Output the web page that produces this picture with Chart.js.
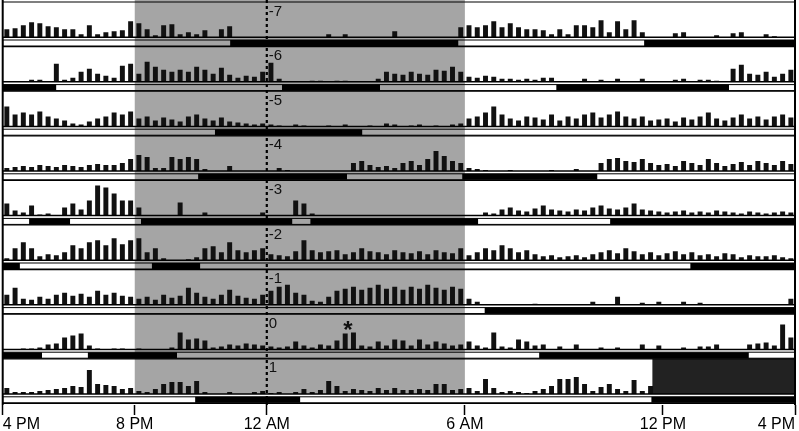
<!DOCTYPE html>
<html>
<head>
<meta charset="utf-8">
<script src="https://cdn.jsdelivr.net/npm/chart.js@4"></script>
<style>
  html, body { margin: 0; padding: 0; background: #fff; }
</style>
</head>
<body>
<canvas id="actogram" width="799" height="431"></canvas>
<script>
// day labels, top to bottom
const dayLabels = ['-7', '-6', '-5', '-4', '-3', '-2', '-1', '0', '1'];
const tickHours = [0, 4, 8, 14, 20, 24];
const tickLabels = ['4 PM', '8 PM', '12 AM', '6 AM', '12 PM', '4 PM'];

// activity counts, 15 min bins from 4 PM to 4 PM (96 per day)
const actM7 = [8,9,12,15,14,11,10,8,8,3,12,3,5,6,7,16, 14,8,2,12,13,3,5,3,7,0,8,11,0,0,0,0,
  0,0,0,0,0,0,0,3,0,3,0,0,0,0,0,6, 0,0,0,0,0,0,0,10,12,10,12,16,10,14,10,8,
  8,7,3,8,3,12,12,10,17,5,16,8,17,5,0,0, 0,4,5,0,0,0,2,0,4,5,0,0,3,1,0,0];
const actM6 = [0,0,0,2,2,0,18,2,4,10,13,8,6,4,16,18, 8,20,15,12,10,12,10,15,12,8,14,7,4,6,5,10,
  19,3,0,0,0,1,1,0,1,1,0,0,0,3,10,8, 7,10,8,7,12,11,15,10,5,4,6,5,3,3,2,3,
  2,4,4,0,0,0,3,0,2,0,3,0,0,3,0,0, 0,2,3,0,2,2,1,0,13,17,8,7,10,5,8,12];
const actM5 = [20,12,14,12,15,10,8,6,3,2,5,8,10,14,12,15, 8,10,6,9,7,5,10,12,8,6,9,5,4,3,2,3,
  2,1,0,2,1,0,0,1,0,2,0,0,1,0,3,2, 0,1,2,0,1,0,2,3,8,10,14,20,12,8,6,10,
  9,7,12,6,10,8,12,14,9,12,15,10,8,10,6,7, 8,5,9,7,10,14,8,6,9,12,8,10,7,10,12,9];
const actM4 = [3,4,5,4,6,5,4,6,5,4,6,7,6,6,8,12, 16,14,3,3,14,12,14,12,2,0,0,5,0,0,0,0,
  0,3,1,0,0,0,0,0,0,0,8,10,6,4,5,3, 8,10,6,12,20,15,10,8,3,2,1,0,0,1,0,0,
  0,0,1,0,0,2,0,0,8,12,13,10,9,12,8,6, 7,5,10,8,6,12,8,5,7,9,6,10,8,6,10,7];
const actM3 = [12,5,3,10,1,2,0,8,12,6,15,30,28,22,15,15, 8,0,0,0,0,13,0,0,3,0,0,0,0,0,0,3,
  0,0,0,15,12,2,0,0,0,0,0,0,0,0,0,0, 0,0,0,0,0,0,0,0,0,0,3,2,6,8,5,4,
  7,10,6,5,4,6,5,8,10,7,6,8,12,6,5,4, 3,4,5,3,4,3,5,4,3,2,4,3,2,3,4,3];
const actM2 = [2,12,18,12,4,6,5,8,15,12,18,20,15,22,16,20, 22,8,12,2,0,0,1,3,12,14,8,18,10,8,10,12,
  6,5,4,9,20,10,8,9,10,6,8,12,9,8,6,10, 8,7,9,6,10,8,7,12,5,8,12,10,15,12,8,10,
  6,4,5,3,4,5,3,6,8,10,7,12,9,6,8,5, 7,9,6,8,5,6,4,7,6,3,5,4,4,5,3,2];
const actM1 = [10,17,6,5,8,6,10,12,9,11,8,14,10,12,9,8, 6,8,5,10,7,9,17,12,8,6,10,15,9,7,6,10,
  14,18,20,12,10,4,3,8,14,16,18,15,17,20,16,18, 15,18,16,20,17,15,18,16,6,3,0,0,0,0,0,0,
  1,0,0,0,0,0,0,3,0,0,8,0,0,2,0,3, 0,0,3,0,2,0,0,0,0,0,0,0,0,0,0,6];
const act0 = [0,0,1,1,2,5,6,12,14,16,4,1,0,1,1,0, 1,0,0,0,2,17,10,11,9,2,3,5,4,6,5,4,
  3,2,3,8,4,2,5,4,9,16,17,4,3,8,4,10, 9,4,10,5,8,6,4,5,8,4,2,17,3,2,10,8,
  4,5,0,3,0,5,0,0,2,0,2,0,0,5,0,4, 0,0,2,0,3,3,5,0,0,0,5,6,7,4,25,12];
const act1 = [6,2,2,2,3,4,5,6,8,7,24,10,9,8,5,6, 3,2,5,10,12,12,8,13,2,0,0,2,0,0,2,3,
  1,2,0,2,5,2,4,13,8,3,5,4,3,6,4,6, 4,4,5,4,10,10,4,5,6,3,15,6,2,3,2,1,
  3,5,8,15,15,17,10,3,7,10,5,3,14,3,8,0, 0,0,0,0,0,0,0,0,0,0,0,0,0,0,0,0];

// sleep episodes (black state bar), hours after 4 PM
const sleepM7 = [[6.89, 13.8], [19.43, 24]];
const sleepM6 = [[0, 1.62], [8.46, 11.43], [16.77, 22.0]];
const sleepM5 = [[6.43, 10.89]];
const sleepM4 = [[5.92, 10.43], [13.92, 18.01]];
const sleepM3 = [[0.8, 2.04], [4.19, 8.77], [9.32, 14.4], [18.4, 24]];
const sleepM2 = [[0, 0.52], [4.52, 5.98], [20.83, 24]];
const sleepM1 = [[14.6, 24]];
const sleep0 = [[0, 1.19], [2.58, 5.28], [16.25, 22.6]];
const sleep1 = [[5.83, 9.01], [19.65, 24]];

const darkHours = [4, 14];       // 8 PM - 6 AM shaded
const midnightHour = 8;
const missingHours = [19.68, 24]; // day 1, no data
const markerHour = 10.46;         // asterisk on day 0

const acts = [actM7, actM6, actM5, actM4, actM3, actM2, actM1, act0, act1];
const sleeps = [sleepM7, sleepM6, sleepM5, sleepM4, sleepM3, sleepM2, sleepM1, sleep0, sleep1];

// layout of one row in y units (1 unit ~ 1 px)
const ROW = 44.6, BASE = 35.2, BAR_TOP = 38, BAR_BOT = 44;
const Y_MAX = 403;

const datasets = [];
acts.forEach((a, r) => {
  const base = r * ROW + BASE;
  datasets.push({
    type: 'bar',
    data: a.map((v, k) => ({ x: k * 0.25 + 0.125, y: [base, base - v] })),
    backgroundColor: '#111',
    grouped: false,
    barPercentage: 0.6,
    categoryPercentage: 1
  });
});
sleeps.forEach((s, r) => {
  const mid = r * ROW + (BAR_TOP + BAR_BOT) / 2;
  const pts = [];
  s.forEach(([a, b]) => { pts.push({ x: a, y: mid }, { x: b, y: mid }, { x: b, y: null }); });
  datasets.push({
    type: 'line',
    data: pts,
    borderColor: '#000',
    borderWidth: BAR_BOT - BAR_TOP,
    borderCapStyle: 'butt',
    pointRadius: 0,
    spanGaps: false,
    tension: 0
  });
});

const decor = {
  id: 'decor',
  beforeDatasetsDraw(chart) {
    const { ctx, chartArea: ca, scales: { x, y } } = chart;
    ctx.save();
    // lights-off shading
    ctx.fillStyle = '#a5a5a5';
    const gx0 = x.getPixelForValue(darkHours[0]), gx1 = x.getPixelForValue(darkHours[1]);
    ctx.fillRect(gx0, 0, gx1 - gx0, y.getPixelForValue(8 * ROW + BASE));
    // missing data block
    const mx0 = x.getPixelForValue(missingHours[0]), mx1 = x.getPixelForValue(missingHours[1]);
    const my0 = y.getPixelForValue(8 * ROW), my1 = y.getPixelForValue(8 * ROW + BASE);
    ctx.fillStyle = '#222';
    ctx.fillRect(mx0, my0, mx1 - mx0, my1 - my0);
    ctx.restore();
  },
  afterDatasetsDraw(chart) {
    const { ctx, chartArea: ca, scales: { x, y } } = chart;
    ctx.save();
    ctx.strokeStyle = '#000';
    for (let r = 0; r < 9; r++) {
      const top = y.getPixelForValue(r * ROW);
      const base = y.getPixelForValue(r * ROW + BASE);
      const b0 = y.getPixelForValue(r * ROW + BAR_TOP);
      const b1 = y.getPixelForValue(r * ROW + BAR_BOT);
      ctx.lineWidth = 1.2;
      ctx.beginPath(); ctx.moveTo(ca.left, top); ctx.lineTo(ca.right, top); ctx.stroke();
      ctx.lineWidth = 1.5;
      ctx.beginPath(); ctx.moveTo(ca.left, base); ctx.lineTo(ca.right, base); ctx.stroke();
      ctx.lineWidth = 1;
      ctx.strokeRect(ca.left, b0, ca.right - ca.left, b1 - b0);
    }
    const bottom = y.getPixelForValue(9 * ROW);
    ctx.lineWidth = 1.2;
    ctx.beginPath(); ctx.moveTo(ca.left, bottom); ctx.lineTo(ca.right, bottom); ctx.stroke();
    // side borders
    ctx.lineWidth = 2;
    ctx.beginPath();
    ctx.moveTo(ca.left, 0); ctx.lineTo(ca.left, ca.bottom);
    ctx.moveTo(ca.right, 0); ctx.lineTo(ca.right, ca.bottom);
    ctx.stroke();
    // midnight dotted line
    const mx = x.getPixelForValue(midnightHour);
    ctx.lineWidth = 2.2;
    ctx.setLineDash([3, 3]);
    ctx.beginPath(); ctx.moveTo(mx, 0); ctx.lineTo(mx, ca.bottom); ctx.stroke();
    ctx.setLineDash([]);
    // day numbers
    ctx.fillStyle = '#111';
    ctx.font = '15px "Liberation Sans", Arial, sans-serif';
    ctx.textBaseline = 'middle';
    ctx.textAlign = 'left';
    dayLabels.forEach((d, r) => {
      ctx.fillText(d, mx + 2, y.getPixelForValue(r * ROW + 9.5));
    });
    // asterisk
    ctx.font = 'bold 24px "Liberation Sans", Arial, sans-serif';
    ctx.textAlign = 'center';
    ctx.textBaseline = 'alphabetic';
    ctx.fillText('*', x.getPixelForValue(markerHour), y.getPixelForValue(7 * ROW + 23.5));
    ctx.restore();
  }
};

new Chart(document.getElementById('actogram'), {
  data: { datasets },
  options: {
    responsive: false,
    devicePixelRatio: 1,
    animation: false,
    layout: { padding: { left: 2.7, right: 4, top: 2, bottom: 0 } },
    plugins: { legend: { display: false }, tooltip: { enabled: false } },
    scales: {
      x: {
        type: 'linear',
        min: 0,
        max: 24,
        offset: false,
        afterBuildTicks: (axis) => { axis.ticks = tickHours.map(v => ({ value: v })); },
        afterFit: (axis) => { axis.height = 26; },
        ticks: {
          autoSkip: false,
          maxRotation: 0,
          align: 'inner',
          padding: 2,
          color: '#000',
          font: { size: 16, family: '"Liberation Sans", Arial, sans-serif', lineHeight: 1 },
          callback: (v) => tickLabels[tickHours.indexOf(v)]
        },
        grid: { offset: false, drawOnChartArea: false, drawTicks: true, tickLength: 10, tickColor: '#000', tickWidth: 1.5 },
        border: { display: false }
      },
      y: {
        type: 'linear',
        min: 0,
        max: Y_MAX,
        reverse: true,
        display: false
      }
    }
  },
  plugins: [decor]
});
</script>
</body>
</html>
